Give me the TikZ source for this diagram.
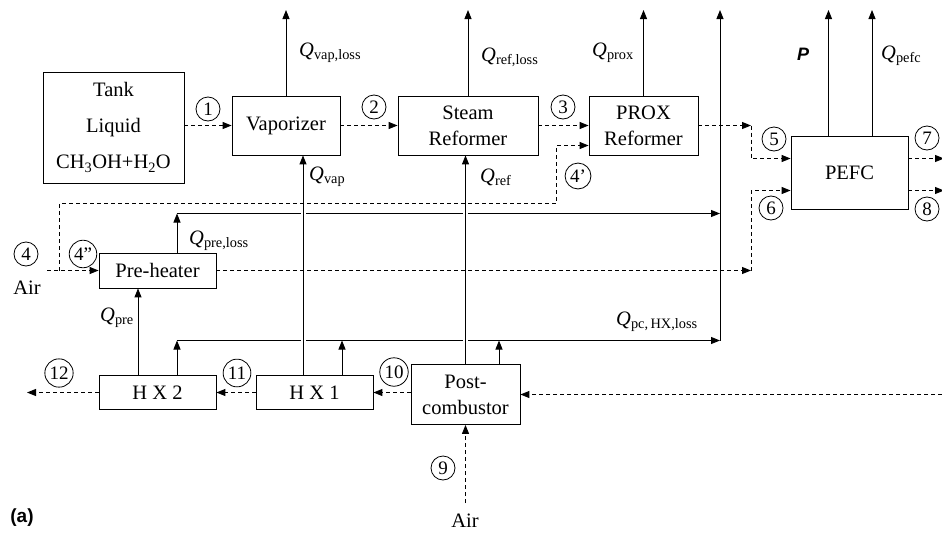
\documentclass[tikz,border=0pt]{standalone}
\usepackage{fontspec}
\setmainfont{Liberation Serif}
\newfontfamily\arialfont{Liberation Sans}
\usetikzlibrary{arrows.meta,positioning,calc}

\newcommand{\heatq}[1]{\textit{Q}\textsubscript{#1}}

\begin{document}
\begin{tikzpicture}[
    x=1pt,y=-1pt,
    >={Triangle[length=9pt,width=7pt]},
    every node/.style={font=\fontsize{20.5}{26}\selectfont},
    unit/.style={draw,line width=0.8pt,inner sep=0pt,align=center},
    heat/.style={->,line width=0.9pt},
    hop/.style={preaction={draw,white,line width=5pt,-,shorten <=3pt,shorten >=3pt}},
    gas/.style={->,line width=0.9pt,dash pattern=on 4pt off 3pt},
    num/.style={circle,draw,line width=0.8pt,inner sep=2pt,minimum size=24pt,font=\fontsize{19}{19}\selectfont},
    lbl/.style={anchor=west,inner sep=0pt}
]
\useasboundingbox (0,0) rectangle (942,533);

% units
\node[unit,minimum width=141pt,minimum height=111pt] (tank) at (113.5,127.5)
  {Tank\\[10pt]Liquid\\[10pt]CH\textsubscript{3}OH+H\textsubscript{2}O};
\node[unit,minimum width=108pt,minimum height=59pt] (vap)  at (286,125.5) {Vaporizer};
\node[unit,minimum width=140pt,minimum height=59pt] (ref)  at (468,125.5) {Steam\\Reformer};
\node[unit,minimum width=109pt,minimum height=59pt] (prox) at (643.5,125.5) {PROX\\Reformer};
\node[unit,minimum width=117pt,minimum height=73pt] (pefc) at (849.5,172.5) {PEFC};
\node[unit,minimum width=117pt,minimum height=35pt] (pre)  at (157.5,270.5) {Pre-heater};
\node[unit,minimum width=117pt,minimum height=34pt] (hx2)  at (157.5,392.5) {H X 2};
\node[unit,minimum width=117pt,minimum height=34pt] (hx1)  at (314.5,392.5) {H X 1};
\node[unit,minimum width=109pt,minimum height=60pt] (pc)   at (465.5,394.5) {Post-\\combustor};

% free ends
\coordinate (tip)  at (0,10);
\coordinate (busT) at (720,10);
\coordinate (busB) at (720,340.5);
\coordinate (pl)   at (177,213.5);
\coordinate (ll)   at (177,340.5);
\coordinate (l1)   at (342,340.5);
\coordinate (l2)   at (499,340.5);
\coordinate (qpre) at ([xshift=-19.5pt]pre.south);
\coordinate (qvap) at ([xshift=17pt]vap.south);
\coordinate (airL) at (47,270.5);
\coordinate (b4)   at (59,270.5);
\coordinate (b4b)  at (556,203.5);
\coordinate (b4c)  at (556,145.5);
\coordinate (j5)   at (751,125.5);
\coordinate (j6)   at (751,270.5);
\coordinate (out7) at (944,158.5);
\coordinate (out8) at (944,190.5);
\coordinate (exhR) at (942,394.5);
\coordinate (exhL) at (27,392.5);
\coordinate (airB) at (465.5,503);

% heat losses
\draw[heat] (vap.north) -- (vap.north |- tip);
\draw[heat] (ref.north) -- (ref.north |- tip);
\draw[heat] (prox.north) -- (prox.north |- tip);
\draw[heat] ([xshift=-21pt]pefc.north) -- ([xshift=-21pt]pefc.north |- tip);
\draw[heat] ([xshift=22.5pt]pefc.north) -- ([xshift=22.5pt]pefc.north |- tip);
\draw[heat] (busB) -- (busT);
\draw[heat] (pre.north -| pl) -- (pl);
\draw[heat] (pl) -- (pl -| busB);
\draw[heat] (ll) -- (busB);
\draw[heat] (hx2.north -| ll) -- (ll);
\draw[heat] (hx1.north -| l1) -- (l1);
\draw[heat] (pc.north -| l2) -- (l2);

% heat supply
\draw[heat] (hx2.north -| qpre) -- (qpre);
\draw[heat,hop] (hx1.north -| qvap) -- (qvap);
\draw[heat,hop] (pc.north) -- (pc.north |- ref.south);

% streams
\draw[gas] (tank.east |- vap.west) -- (vap.west);
\draw[gas] (vap.east) -- (ref.west);
\draw[gas] (ref.east) -- (prox.west);
\draw[gas] (airL) -- (pre.west);
\draw[gas] (b4) |- (b4b) -- (b4c) -- (b4c -| prox.west);
\draw[gas] (prox.east) -- (j5);
\draw[gas] (j5) |- (pefc.west |- out7);
\draw[gas] (pre.east) -- (j6);
\draw[gas] (j6) |- (pefc.west |- out8);
\draw[gas] (pefc.east |- out7) -- (out7);
\draw[gas] (pefc.east |- out8) -- (out8);
\draw[gas] (exhR) -- (pc.east);
\draw[gas] (pc.west |- hx1.east) -- (hx1.east);
\draw[gas] (hx1.west) -- (hx2.east);
\draw[gas] (hx2.west) -- (exhL);
\draw[gas] (airB) -- (pc.south);

% state points
\foreach \n/\x/\y/\t in {1/208/109/1, 2/374/107/2, 3/563/107/3, 4/26/254/4,
    4a/83/254/4'', 4b/578/176/4', 5/774/139/5, 6/771/208/6, 7/927/138/7,
    8/927/209/8, 9/443/468/9, 10/394/372/10, 11/237/373/11, 12/59/373/12}
  \node[num] (c\n) at (\x,\y) {\t};

% labels
\node[lbl] (qvl)  at (299,53)  {\heatq{vap,loss}};
\node[lbl] (qrl)  at (481,57)  {\heatq{ref,loss}};
\node[lbl] (qpx)  at (592,53)  {\heatq{prox}};
\node[lbl] (qpf)  at (881,56)  {\heatq{pefc}};
\node[lbl] (qv)   at (309,177) {\heatq{vap}};
\node[lbl] (qr)   at (480,177) {\heatq{ref}};
\node[lbl] (qprl) at (189,241) {\heatq{pre,loss}};
\node[lbl] (qp)   at (100,318) {\heatq{pre}};
\node[lbl] (qhx)  at (616,322) {\heatq{pc,\,HX,loss}};
\node (pw) at (803,54) {\arialfont\fontsize{18}{18}\selectfont\bfseries\itshape P};
\node (air1) at (27,288) {Air};
\node (air2) at (465,521) {Air};
\node (fig) at (22,518) {\arialfont\fontsize{19}{19}\selectfont\bfseries (a)};

\end{tikzpicture}
\end{document}
